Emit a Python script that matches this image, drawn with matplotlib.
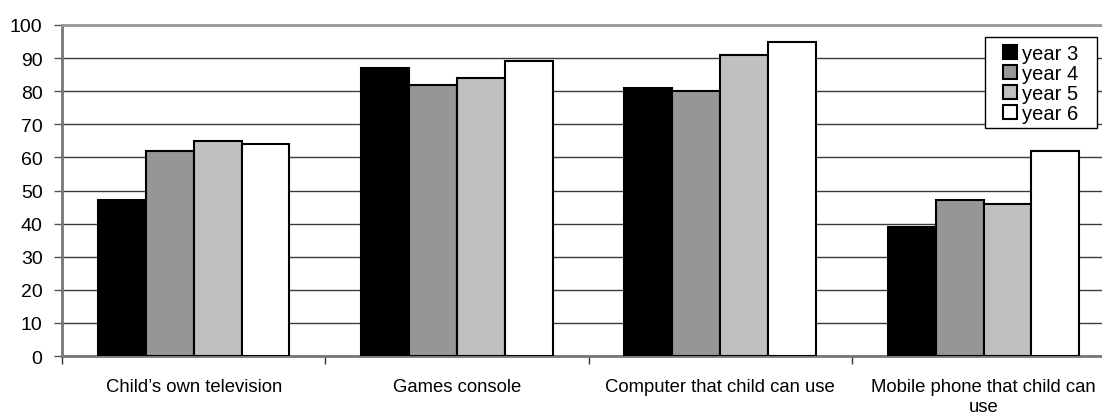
import matplotlib
matplotlib.use("Agg")
import matplotlib.pyplot as plt
from matplotlib.patches import Rectangle
import numpy as np

plt.rcParams['font.family'] = ['Liberation Sans', 'DejaVu Sans']

categories = ["Child\u2019s own television", "Games console",
              "Computer that child can use", "Mobile phone that child can\nuse"]
series_names = ["year 3", "year 4", "year 5", "year 6"]
year3 = [47, 87, 81, 39]
year4 = [62, 82, 80, 47]
year5 = [65, 84, 91, 46]
year6 = [64, 89, 95, 62]
y_ticks = list(range(0, 101, 10))

series = [year3, year4, year5, year6]
colors = ["#000000", "#969696", "#c0c0c0", "#ffffff"]

W, H = 1102, 414
fig = plt.figure(figsize=(W / 100, H / 100), dpi=100)
# plot area: left edge at x=62, spans four 263px category slots (runs past the right edge)
left, top, bottom = 62, 26, 357
width = 4 * 263.3
ax = fig.add_axes([left / W, 1 - bottom / H, width / W, (bottom - top) / H])

x = np.arange(len(categories))
bw = 0.182
for i, (vals, col) in enumerate(zip(series, colors)):
    ax.bar(x + (i - 1.5) * bw, vals, bw, color=col, edgecolor="black",
           linewidth=1.5, label=series_names[i], zorder=3)

ax.set_xlim(-0.5, len(categories) - 0.5)
ax.set_ylim(0, 100)
ax.set_yticks(y_ticks)
ax.set_yticklabels([str(v) for v in y_ticks], fontsize=14)
ax.yaxis.grid(True, color="#3a3a3a", linewidth=1.0, zorder=0)
ax.set_axisbelow(True)

ax.set_xticks(x)
ax.set_xticklabels(categories, fontsize=13.3, linespacing=1.25)
ax.tick_params(axis="x", which="major", length=0, pad=15.5)
ax.set_xticks(np.arange(-0.5, len(categories) + 0.5, 1.0), minor=True)
ax.tick_params(axis="x", which="minor", length=6, color="#333333", width=1)
ax.tick_params(axis="y", length=6, color="#555555", width=1, pad=8)

for side in ["left", "bottom"]:
    ax.spines[side].set_color("#777777")
    ax.spines[side].set_linewidth(2.0)
ax.spines["top"].set_color("#999999")
ax.spines["top"].set_linewidth(2.0)
ax.spines["right"].set_visible(False)

# legend box drawn separately so its side padding can be wider than its top/bottom
fig.add_artist(Rectangle((985 / W, 1 - 129 / H), (1097 - 985) / W, (129 - 38) / H,
                         transform=fig.transFigure, facecolor="white",
                         edgecolor="black", linewidth=1.0, zorder=5))
leg = fig.legend(loc="upper left", bbox_to_anchor=(1003 / W, 1 - 45 / H),
                 bbox_transform=fig.transFigure, fontsize=14.5,
                 frameon=False, borderaxespad=0, borderpad=0,
                 handlelength=0.7, handleheight=0.7, handletextpad=0.25,
                 labelspacing=0.05)
leg.set_zorder(6)
for h in leg.legend_handles:
    h.set_linewidth(1.5)

fig.savefig("out.png", dpi=100, facecolor="white")
